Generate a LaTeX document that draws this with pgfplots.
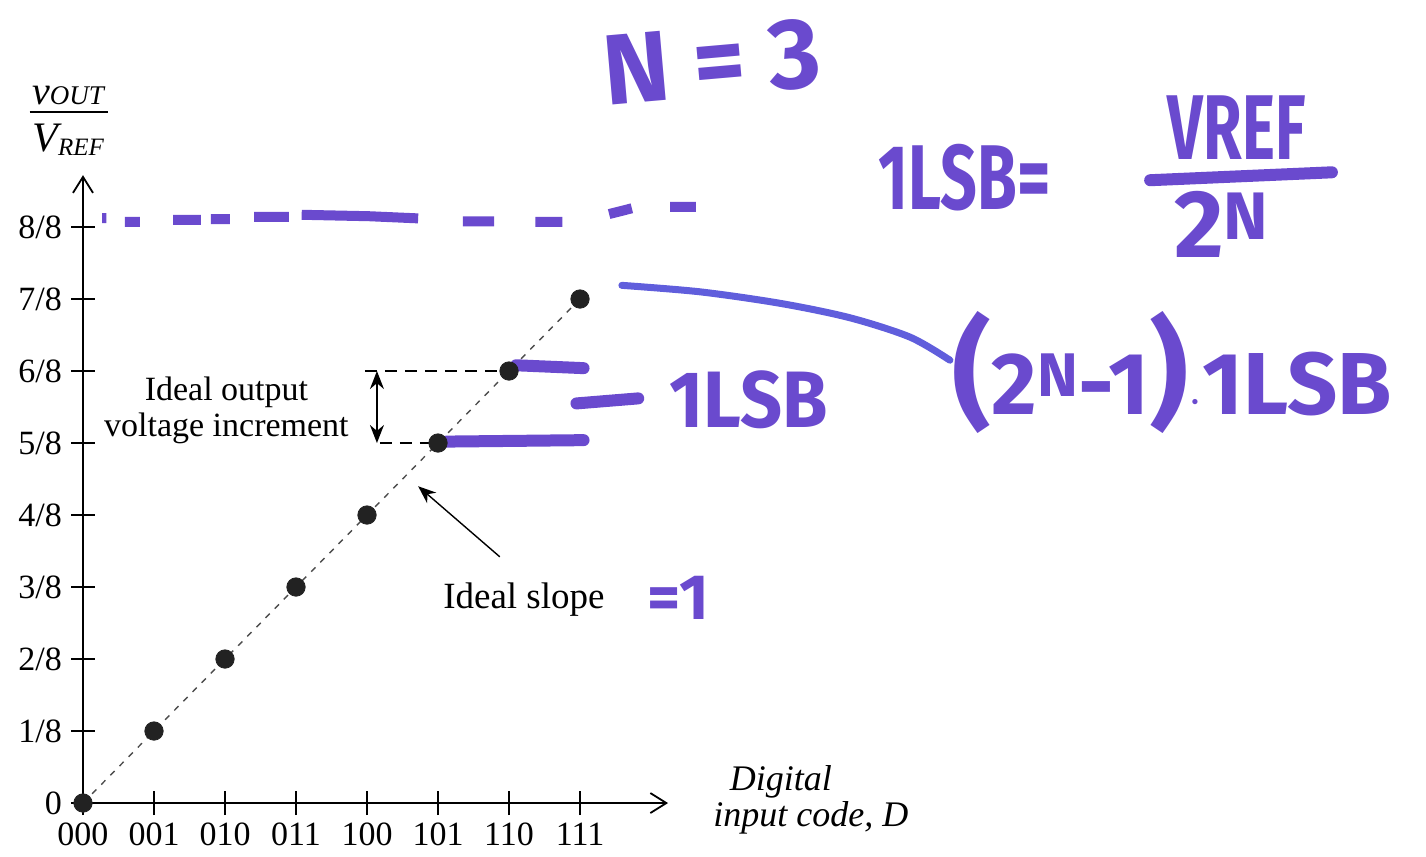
\documentclass[border=0pt]{standalone}
\usepackage{pgfplots}
\pgfplotsset{compat=1.18}
\usepackage{pgfplotstable}
\usepackage{fontspec}
\setmainfont{Liberation Serif}
\newfontfamily\hand{Fira Sans}
\usetikzlibrary{arrows.meta}

\definecolor{marker}{RGB}{106,74,206}
\definecolor{markerblue}{RGB}{96,94,220}
\definecolor{dotblack}{RGB}{34,34,34}

% ideal 3-bit DAC transfer: output in units of VREF/8
\pgfplotstableread{
code vout
0 0
1 1
2 2
3 3
4 4
5 5
6 6
7 7
}\transfer

\begin{document}
\begin{tikzpicture}
\begin{axis}[
  x=35.5pt, y=36pt,
  xmin=0, xmax=8.24, ymin=0, ymax=8.72,
  axis lines=left,
  axis line style={line width=0.9pt,
    -{Straight Barb[length=8pt,width=10pt,line width=0.9pt]}},
  clip=false,
  xtick={0,...,7},
  xticklabels={000,001,010,011,100,101,110,111},
  ytick={0,...,8},
  yticklabels={0,1/8,2/8,3/8,4/8,5/8,6/8,7/8,8/8},
  tick align=center,
  major tick length=12pt,
  tick style={line width=0.8pt,black},
  ticklabel style={font=\fontsize{17}{17}\selectfont},
  /pgf/number format/assume math mode=true,
  xticklabel style={yshift=-0.5pt},
  yticklabel style={xshift=-1pt},
]
% overall canvas
\path (axis cs:-1.169,-0.736) rectangle (axis cs:18.915,11.153);

% ideal slope line
\addplot[gray!60!black, line width=0.7pt, dash pattern=on 3pt off 3.5pt]
  coordinates {(0,0) (7,7)};

% construction lines for one output step
\addplot[black, line width=0.7pt, dash pattern=on 6pt off 4pt]
  coordinates {(3.97,6) (6,6)};
\addplot[black, line width=0.7pt, dash pattern=on 6pt off 4pt]
  coordinates {(4.18,5) (5,5)};
\draw[line width=0.8pt, {Stealth[length=9pt,width=7pt]}-{Stealth[length=9pt,width=7pt]}]
  (axis cs:4.14,6) -- (axis cs:4.14,5);

% output levels
\addplot[only marks, mark=*, mark size=4.6pt, dotblack]
  table[x=code, y=vout] {\transfer};

% pointer to the slope
\draw[line width=0.7pt, -{Stealth[length=9pt,width=7pt]}]
  (axis cs:5.87,3.42) -- (axis cs:4.72,4.40);

% printed labels
\node[font=\fontsize{17}{18}\selectfont, align=center]
  at (axis cs:2.02,5.46) {Ideal output\\voltage increment};
\node[font=\fontsize{18.5}{18.5}\selectfont] at (axis cs:6.21,2.82) {Ideal slope};
\node[font=\itshape\fontsize{18}{18}\selectfont] at (axis cs:9.83,0.29) {Digital};
\node[font=\itshape\fontsize{18}{18}\selectfont] at (axis cs:10.25,-0.21) {input code, \textit{D}};

% y label as a fraction
\node at (axis cs:-0.21,9.83)
  {\fontsize{20}{20}\selectfont\itshape v\fontsize{13.5}{13.5}\selectfont OUT};
\draw[line width=0.9pt] (axis cs:-0.75,9.60) -- (axis cs:0.35,9.60);
\node at (axis cs:-0.21,9.21)
  {\fontsize{21}{21}\selectfont\itshape V\fontsize{12.5}{12.5}\selectfont\raisebox{-2pt}{REF}};

% marker notes: full-scale level
\addplot[marker, line width=5pt, unbounded coords=jump] coordinates {
  (0.27,8.125) (0.33,8.125) (nan,nan)
  (0.59,8.07) (0.80,8.07) (nan,nan)
  (1.27,8.10) (1.66,8.10) (nan,nan)
  (1.80,8.11) (2.07,8.11) (nan,nan)
  (2.41,8.14) (2.90,8.14) (nan,nan)
  (3.08,8.17) (4.03,8.15) (4.72,8.12) (nan,nan)
  (5.35,8.08) (5.79,8.08) (nan,nan)
  (6.37,8.07) (6.75,8.07) (nan,nan)
  (7.41,8.18) (7.73,8.26) (nan,nan)
  (8.27,8.28) (8.63,8.28)
};

% marker notes: one step
\addplot[marker, line width=6pt, line cap=round] coordinates {(6.10,6.08) (7.05,6.04)};
\addplot[marker, line width=6pt, line cap=round] coordinates {(5.12,5.02) (7.05,5.04)};
\draw[marker, line width=6pt, line cap=round] (axis cs:6.95,5.55) -- (axis cs:7.82,5.62);
\node[text=marker, font=\hand\bfseries\fontsize{40}{40}\selectfont, xscale=0.92]
  at (axis cs:9.37,5.60) {1LSB};

% marker notes: full-scale output
\addplot[markerblue, line width=3.5pt, smooth, line cap=round] coordinates {
  (7.59,7.19) (8.69,7.10) (9.82,6.94) (10.80,6.74) (11.65,6.47) (12.21,6.15)};
\node[text=marker, font=\hand\bfseries\fontsize{44}{44}\selectfont]
  at (axis cs:15.34,5.98) {{\fontsize{60}{60}\selectfont(}2\textsuperscript{N}-1{\fontsize{60}{60}\selectfont)}$\cdot$1LSB};

% marker notes: resolution and LSB size
\node[text=marker, font=\hand\bfseries\fontsize{50}{50}\selectfont, rotate=5]
  at (axis cs:8.86,10.29) {N = 3};
\node[text=marker, font=\hand\bfseries\fontsize{46}{46}\selectfont, xscale=0.7]
  at (axis cs:12.42,8.68) {1LSB=};
\node[text=marker, font=\hand\bfseries\fontsize{46}{46}\selectfont, xscale=0.68]
  at (axis cs:16.25,9.38) {VREF};
\draw[marker, line width=6pt, line cap=round] (axis cs:15.03,8.65) -- (axis cs:17.59,8.76);
\node[text=marker, font=\hand\bfseries\fontsize{48}{48}\selectfont]
  at (axis cs:16.04,8.03) {2\textsuperscript{N}};

% marker notes: slope value
\node[text=marker, font=\hand\bfseries\fontsize{32}{32}\selectfont]
  at (axis cs:8.38,2.85) {=1};
\end{axis}
\end{tikzpicture}
\end{document}
